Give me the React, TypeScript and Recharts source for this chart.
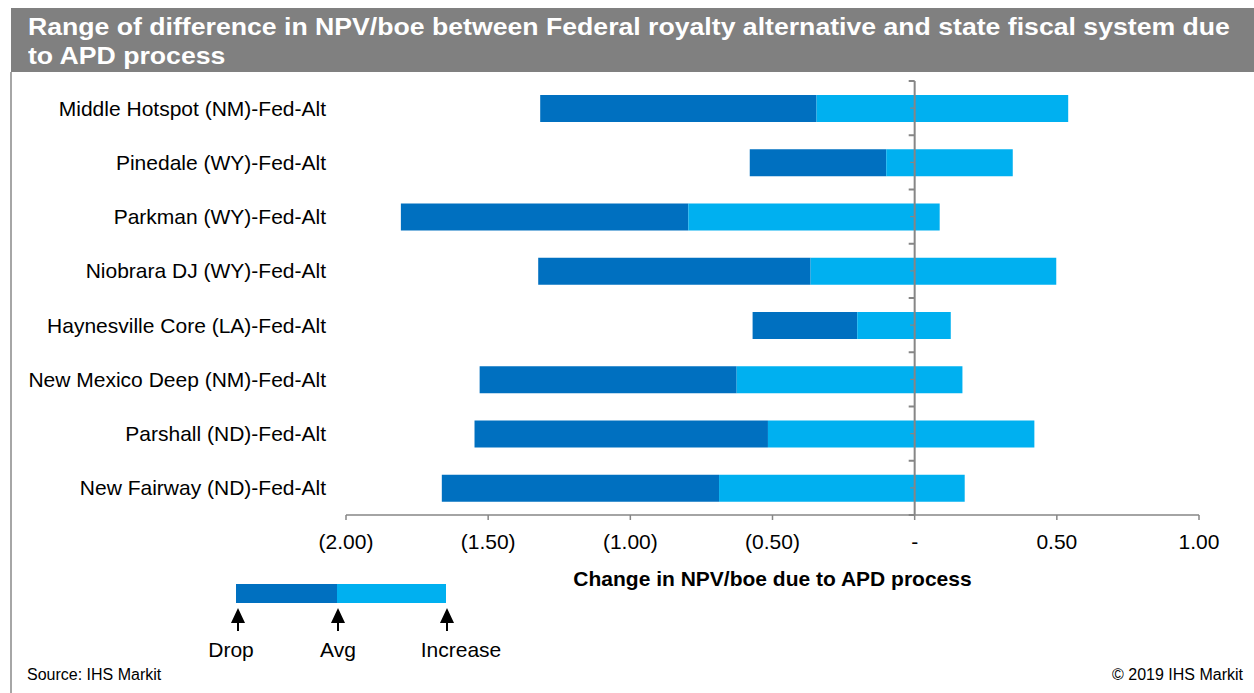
import { Bar, BarChart, ReferenceLine, XAxis, YAxis } from "recharts";

const categories = [
  "Middle Hotspot (NM)-Fed-Alt",
  "Pinedale (WY)-Fed-Alt",
  "Parkman (WY)-Fed-Alt",
  "Niobrara DJ (WY)-Fed-Alt",
  "Haynesville Core (LA)-Fed-Alt",
  "New Mexico Deep (NM)-Fed-Alt",
  "Parshall (ND)-Fed-Alt",
  "New Fairway (ND)-Fed-Alt",
];
const drop = [-1.317, -0.58, -1.807, -1.324, -0.57, -1.53, -1.548, -1.663];
const avg = [-0.345, -0.1, -0.796, -0.366, -0.202, -0.626, -0.516, -0.688];
const increase = [0.54, 0.345, 0.088, 0.498, 0.127, 0.168, 0.421, 0.176];
const xTicks = [-2, -1.5, -1, -0.5, 0, 0.5, 1];

const data = categories.map((name, i) => ({
  name,
  low: [drop[i], avg[i]],
  high: [avg[i], increase[i]],
}));

const DARK = "#0070C0";
const LIGHT = "#00B0F0";
const GRAY = "#868686";
const FONT = "'Liberation Sans', Arial, sans-serif";

const fmt = (v: number) => {
  if (v === 0) return "-";
  const s = Math.abs(v).toFixed(2);
  return v < 0 ? `(${s})` : s;
};

// little tick marks on the zero line, at band edges and centres
const zeroTick = (cat: string, position: string, len: number, w: number) => (
  <ReferenceLine
    key={cat + position}
    segment={[
      { x: -len, y: cat },
      { x: 0, y: cat },
    ]}
    position={position as any}
    stroke={GRAY}
    strokeWidth={w}
    ifOverflow="visible"
  />
);

const Legend = () => (
  <svg
    width={320}
    height={90}
    style={{ position: "absolute", left: 190, top: 580 }}
    fontFamily={FONT}
    fontSize={21}
  >
    <rect x={46} y={4} width={101} height={19} fill={DARK} />
    <rect x={147} y={4} width={109} height={19} fill={LIGHT} />
    {[48, 148, 257].map((x) => (
      <g key={x}>
        <polygon points={`${x - 7},${43} ${x + 7},${43} ${x},${28}`} fill="#000" />
        <line x1={x} y1={42} x2={x} y2={51} stroke="#000" strokeWidth={2} />
      </g>
    ))}
    <text x={41} y={77} textAnchor="middle" fill="#000">Drop</text>
    <text x={148} y={77} textAnchor="middle" fill="#000">Avg</text>
    <text x={271} y={77} textAnchor="middle" fill="#000">Increase</text>
  </svg>
);

const App = () => {
  return (
    <div
      style={{
        position: "absolute",
        left: 0,
        top: 0,
        width: 1254,
        height: 693,
        background: "#fff",
        fontFamily: FONT,
        overflow: "hidden",
      }}
    >
      <div
        style={{
          position: "absolute",
          left: 11,
          top: 8,
          width: 1226,
          height: 59.5,
          paddingLeft: 17,
          paddingTop: 4.5,
          background: "#808080",
          color: "#fff",
          fontWeight: "bold",
          fontSize: 23,
          lineHeight: "29px",
        }}
      >
        <div
          style={{
            width: 1045,
            transform: "scaleX(1.158)",
            transformOrigin: "left top",
          }}
        >
          Range of difference in NPV/boe between Federal royalty alternative and
          state fiscal system due to APD process
        </div>
      </div>
      <div
        style={{
          position: "absolute",
          left: 10,
          top: 72,
          width: 2,
          height: 621,
          background: "#A6A6A6",
        }}
      />
      <div style={{ position: "absolute", left: 0, top: 0 }}>
        <BarChart
          width={1254}
          height={693}
          data={data}
          layout="vertical"
          margin={{ top: 81, right: 55, bottom: 138, left: 0 }}
          barSize={27}
          barGap={-27}
        >
          <XAxis
            type="number"
            domain={[-2, 1]}
            ticks={xTicks}
            tickFormatter={fmt}
            height={40}
            tickSize={5}
            tickMargin={14}
            stroke={GRAY}
            strokeWidth={1.5}
            tick={{ fill: "#000", fontSize: 21, fontFamily: FONT }}
            allowDataOverflow
          />
          <YAxis
            type="category"
            dataKey="name"
            width={346}
            axisLine={false}
            tickLine={false}
            tickSize={0}
            tickMargin={20}
            tick={{ fill: "#000", fontSize: 21, fontFamily: FONT }}
          />
          <Bar dataKey="low" fill={DARK} isAnimationActive={false} />
          <Bar dataKey="high" fill={LIGHT} isAnimationActive={false} />
          <ReferenceLine x={0} stroke={GRAY} strokeWidth={2} />
          {categories.map((c) => zeroTick(c, "start", 0.021, 2))}
          {zeroTick(categories[categories.length - 1], "end", 0.021, 2)}
          {categories.map((c) => zeroTick(c, "middle", 0.016, 1.2))}
        </BarChart>
      </div>
      <div
        style={{
          position: "absolute",
          left: 346,
          width: 853,
          top: 567,
          textAlign: "center",
          fontWeight: "bold",
          fontSize: 21,
          color: "#000",
        }}
      >
        Change in NPV/boe due to APD process
      </div>
      <Legend />
      <div style={{ position: "absolute", left: 27, top: 666, fontSize: 16, color: "#000" }}>
        Source: IHS Markit
      </div>
      <div style={{ position: "absolute", right: 11, top: 666, fontSize: 16, color: "#000" }}>
        © 2019 IHS Markit
      </div>
    </div>
  );
};

export default App;
